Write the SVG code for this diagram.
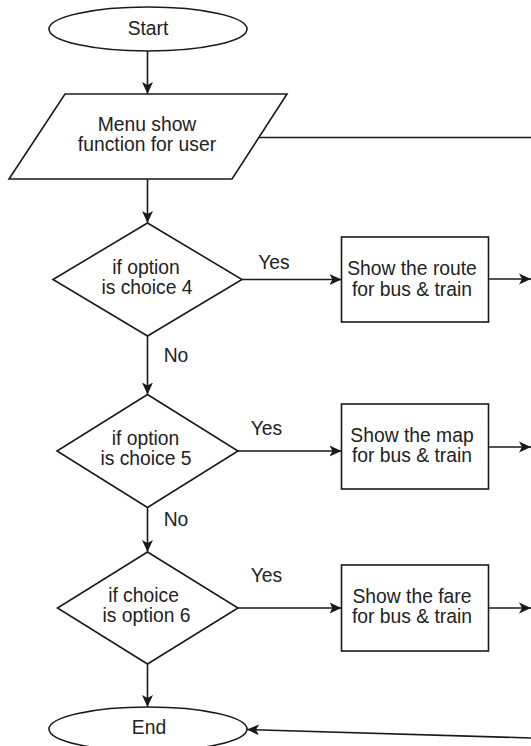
<svg xmlns="http://www.w3.org/2000/svg" width="531" height="746" viewBox="0 0 531 746">
  <style>
    .shape { fill: #ffffff; stroke: #1a1a1a; stroke-width: 1.6; }
    .conn { fill: none; stroke: #1a1a1a; stroke-width: 1.6; }
    .label { font-family: "Liberation Sans", Arial, sans-serif; font-size: 19.3px; fill: #222222; text-anchor: middle; }
  </style>
  <defs>
    <marker id="arrow" markerUnits="userSpaceOnUse" markerWidth="13" markerHeight="13" refX="12" refY="6" orient="auto">
      <path d="M0,0.5 L12,6 L0,11.5 L3,6 Z" fill="#1a1a1a" stroke="none"/>
    </marker>
  </defs>
  <rect x="0" y="0" width="531" height="746" fill="#ffffff"/>

  <g id="connectors">
    <line class="conn" x1="147.5" y1="51" x2="147.5" y2="94" marker-end="url(#arrow)"/>
    <line class="conn" x1="259" y1="137.5" x2="531" y2="137.5"/>
    <line class="conn" x1="147.5" y1="179" x2="147.5" y2="223" marker-end="url(#arrow)"/>
    <line class="conn" x1="242" y1="279.5" x2="341.5" y2="279.5" marker-end="url(#arrow)"/>
    <line class="conn" x1="488.5" y1="279" x2="531" y2="279" marker-end="url(#arrow)"/>
    <line class="conn" x1="147.5" y1="336" x2="147.5" y2="394.5" marker-end="url(#arrow)"/>
    <line class="conn" x1="238" y1="451" x2="341.5" y2="451" marker-end="url(#arrow)"/>
    <line class="conn" x1="488.5" y1="447" x2="531" y2="447" marker-end="url(#arrow)"/>
    <line class="conn" x1="147.5" y1="507.5" x2="147.5" y2="552" marker-end="url(#arrow)"/>
    <line class="conn" x1="238" y1="608" x2="341.5" y2="608" marker-end="url(#arrow)"/>
    <line class="conn" x1="488.5" y1="608" x2="531" y2="608" marker-end="url(#arrow)"/>
    <line class="conn" x1="147.5" y1="664" x2="147.5" y2="707" marker-end="url(#arrow)"/>
    <line class="conn" x1="531" y1="738" x2="247" y2="729.5" marker-end="url(#arrow)"/>
    <text class="label" x="274" y="269">Yes</text>
    <text class="label" x="176" y="362">No</text>
    <text class="label" x="266.5" y="435">Yes</text>
    <text class="label" x="176" y="526">No</text>
    <text class="label" x="266.5" y="582">Yes</text>
  </g>

  <g id="start">
    <ellipse class="shape" cx="148" cy="29" rx="99" ry="22"/>
    <text class="label" x="148" y="34.5">Start</text>
  </g>

  <g id="menu">
    <polygon class="shape" points="65,94 287,94 232,179 9,179"/>
    <text class="label" x="147" y="130.5">Menu show</text>
    <text class="label" x="147" y="150.5">function for user</text>
  </g>

  <g id="decision4">
    <polygon class="shape" points="147.5,223 242,279.5 147.5,336 53,279.5"/>
    <text class="label" x="146" y="273.5">if option</text>
    <text class="label" x="147" y="293.5">is choice 4</text>
  </g>

  <g id="route">
    <rect class="shape" x="341.5" y="237" width="147" height="85"/>
    <text class="label" x="412" y="274.5">Show the route</text>
    <text class="label" x="412" y="295.5">for bus &amp; train</text>
  </g>

  <g id="decision5">
    <polygon class="shape" points="147.5,394.5 238,451 147.5,507.5 57,451"/>
    <text class="label" x="145.5" y="445">if option</text>
    <text class="label" x="146" y="465">is choice 5</text>
  </g>

  <g id="map">
    <rect class="shape" x="341.5" y="404" width="147" height="85"/>
    <text class="label" x="412" y="441.5">Show the map</text>
    <text class="label" x="412" y="462">for bus &amp; train</text>
  </g>

  <g id="decision6">
    <polygon class="shape" points="147.5,552 238,608 147.5,664 57.5,608"/>
    <text class="label" x="143.5" y="602">if choice</text>
    <text class="label" x="146.5" y="622">is option 6</text>
  </g>

  <g id="fare">
    <rect class="shape" x="341.5" y="565" width="147" height="86"/>
    <text class="label" x="412" y="603">Show the fare</text>
    <text class="label" x="412" y="623">for bus &amp; train</text>
  </g>

  <g id="end">
    <ellipse class="shape" cx="148" cy="729" rx="99" ry="22"/>
    <text class="label" x="149" y="734">End</text>
  </g>
</svg>
